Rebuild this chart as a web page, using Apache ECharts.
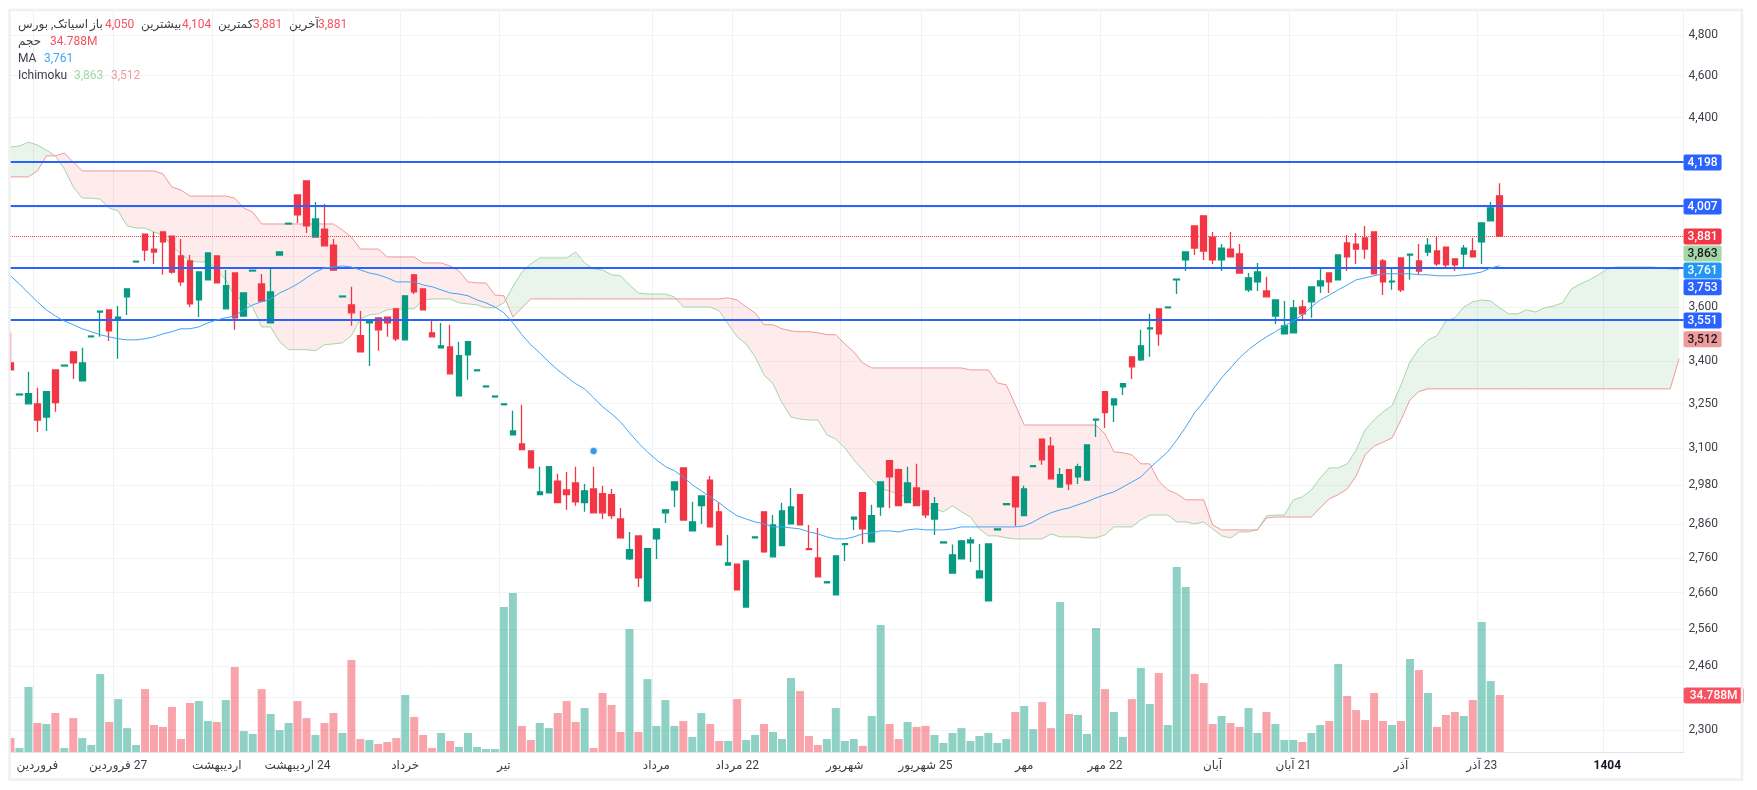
<!DOCTYPE html>
<html>
<head>
<meta charset="utf-8">
<style>
  html, body { margin: 0; padding: 0; background: #fff; }
  #main { width: 1757px; height: 790px; }
</style>
<script src="https://cdn.jsdelivr.net/npm/echarts@6/dist/echarts.min.js"></script>
</head>
<body>
<div id="main"></div>
<script>
// one candle per trading day, bars 167-186 are the empty future slots of the cloud
const opens = [3393,3280,3249,3249,3204,3368,3382,3433,3329,3488,3581,3589,3551,3639,3776,3889,3828,3898,3881,3800,3780,3627,3705,3800,3593,3732,3566,3740,3689,3540,3804,3931,4054,4114,3877,3910,3844,3639,3608,3492,3540,3559,3562,3593,3477,3725,3670,3503,3448,3451,3277,3422,3365,3308,3273,3246,3144,3114,3091,2951,2957,2994,2966,2988,2926,2969,2954,2951,2876,2757,2825,2637,2816,2895,2966,3036,2840,2917,2997,2898,2739,2742,2620,2819,2898,2763,2796,2861,2951,2787,2760,2688,2654,2799,2876,2957,2807,2913,3059,3030,2926,2972,2963,2876,2804,2716,2757,2804,2702,2637,2843,2920,3007,2886,3040,3130,3107,2975,3030,3007,2997,3194,3291,3246,3308,3415,3404,3518,3593,3597,3705,3784,3923,3965,3877,3784,3828,3808,3666,3697,3662,3566,3499,3503,3600,3620,3682,3732,3705,3853,3848,3873,3898,3780,3697,3792,3804,3780,3816,3820,3836,3788,3808,3820,3857,3944,4050];
const closes = [3368,3283,3284,3194,3291,3253,3385,3393,3393,3491,3584,3510,3562,3670,3779,3824,3816,3857,3736,3697,3612,3736,3812,3693,3682,3559,3654,3743,3623,3658,3816,3934,3969,3923,3952,3841,3744,3642,3578,3433,3551,3514,3540,3481,3643,3658,3589,3488,3455,3354,3419,3470,3368,3311,3276,3249,3157,3095,3036,2960,3040,2926,2951,2929,2963,2895,2895,2886,2819,2784,2702,2787,2846,2904,2991,2873,2867,2947,2852,2798,2745,2668,2751,2822,2778,2858,2901,2913,2858,2784,2705,2691,2766,2802,2882,2846,2886,2991,3007,2917,2988,2917,2889,2923,2807,2769,2810,2813,2722,2801,2846,2923,2913,2969,3043,3062,3001,3014,2985,3040,3111,3197,3219,3266,3319,3379,3455,3521,3499,3600,3708,3816,3832,3820,3784,3832,3796,3732,3713,3736,3639,3627,3529,3597,3574,3678,3701,3697,3804,3796,3828,3828,3729,3697,3700,3666,3807,3740,3844,3768,3764,3764,3832,3796,3935,3998,3881];
const lows = [3368,3280,3249,3154,3157,3222,3382,3336,3329,3488,3488,3473,3408,3570,3776,3780,3768,3725,3729,3682,3600,3562,3705,3693,3593,3514,3566,3740,3623,3540,3804,3931,3935,3894,3877,3841,3744,3639,3529,3433,3382,3437,3488,3473,3477,3650,3589,3488,3448,3354,3277,3333,3365,3308,3273,3246,3144,3095,3036,2951,2957,2926,2904,2917,2898,2895,2876,2876,2819,2754,2676,2637,2757,2864,2913,2873,2840,2861,2852,2798,2739,2668,2620,2819,2775,2763,2796,2861,2858,2784,2705,2688,2654,2751,2843,2801,2807,2886,2910,2917,2926,2917,2879,2828,2804,2716,2757,2748,2702,2637,2843,2920,2855,2886,3040,3046,3001,2975,2966,2985,2997,3137,3167,3187,3280,3336,3400,3415,3455,3597,3650,3740,3804,3784,3768,3740,3796,3732,3658,3662,3639,3536,3499,3503,3555,3559,3654,3654,3705,3740,3768,3788,3729,3646,3666,3658,3705,3725,3800,3760,3756,3740,3756,3796,3768,3944,3881];
const highs = [3503,3283,3361,3305,3291,3368,3385,3433,3448,3491,3584,3589,3604,3670,3779,3889,3898,3898,3881,3869,3804,3736,3812,3800,3744,3732,3654,3743,3728,3752,3816,3934,4054,4114,4024,4015,3869,3642,3678,3585,3551,3559,3562,3593,3643,3728,3670,3555,3540,3533,3470,3470,3368,3311,3276,3249,3225,3246,3091,3040,3040,3017,3023,3040,2985,3040,2979,2969,2910,2837,2825,2787,2846,2904,2991,3036,2929,2947,3010,2926,2828,2742,2751,2822,2898,2888,2926,2972,2951,2858,2849,2691,2766,2802,2882,2957,2920,2991,3059,3033,3040,3049,2963,2944,2807,2799,2813,2822,2801,2801,2846,2923,3007,2979,3043,3130,3137,3036,3030,3049,3111,3197,3291,3266,3319,3415,3514,3574,3593,3600,3708,3816,3923,3965,3898,3848,3898,3848,3732,3772,3717,3627,3623,3627,3627,3678,3752,3732,3804,3885,3894,3923,3898,3788,3748,3792,3807,3848,3873,3877,3836,3788,3844,3873,3935,4024,4104];
const volumes = [8.5,2.4,39.7,17.7,17.1,23.8,2.4,20.7,8.5,4.3,47.6,18.3,32.3,14.6,4.3,38.4,16.5,15.3,27.5,7.9,29.9,31.1,18.9,18.3,31.7,51.9,12.8,11,38.4,23.2,13.4,17.7,31.1,20.7,10.4,17.7,23.8,11.6,56.1,7.9,7.3,4.9,6.1,8.5,34.8,21.4,10.4,2.4,11.6,6.7,3.1,11.6,3.1,1.8,1.8,88.5,97,15.9,7.3,17.7,14.6,23.8,31.1,18.3,26.8,2.4,36,28.7,12.2,75.1,12.2,44.5,15.9,31.7,15.9,18.9,9.2,23.8,17.1,6.7,6.7,32.3,7.3,10.4,17.1,12.2,7.9,45.2,37.2,9.8,4.3,7.9,26.8,6.7,7.9,3.7,22,77.5,17.1,7.9,18.3,15.3,15.9,10.4,5.5,11.6,14.6,6.7,9.8,11.6,5.5,7.9,24.4,28.1,14,30.5,14.6,91.5,23.2,22.6,11,75.7,38.4,24.4,9.2,32.3,51.3,29.3,48.2,16.5,112.9,100.7,47.6,42.1,17.1,22,17.7,15.3,26.8,11.6,24.4,17.1,7.3,7.3,6.1,11.6,16.5,18.9,53.7,34.2,25.6,19.5,36,18.9,16.5,18.9,56.7,50,36,15.3,22.6,24.4,22,31.7,79.3,43.3,34.788];
const maValues = [3721,3689,3654,3620,3589,3566,3547,3533,3518,3507,3496,3488,3481,3477,3477,3481,3488,3499,3507,3518,3518,3525,3540,3551,3559,3566,3589,3608,3620,3631,3654,3670,3689,3713,3736,3752,3756,3760,3756,3744,3732,3725,3713,3697,3697,3697,3685,3678,3666,3654,3650,3643,3627,3616,3600,3578,3540,3496,3459,3429,3397,3368,3343,3319,3301,3270,3239,3215,3187,3151,3117,3088,3062,3040,3027,3007,2982,2963,2944,2926,2904,2886,2876,2867,2861,2852,2852,2849,2846,2837,2831,2822,2816,2816,2822,2831,2834,2840,2840,2837,2843,2846,2843,2843,2843,2846,2852,2852,2852,2852,2852,2852,2852,2855,2867,2882,2895,2904,2910,2920,2929,2941,2951,2960,2975,2991,3007,3036,3062,3088,3127,3170,3219,3256,3298,3340,3375,3411,3441,3466,3488,3507,3529,3547,3570,3600,3627,3646,3666,3685,3705,3713,3721,3729,3729,3729,3729,3725,3725,3721,3721,3721,3725,3729,3736,3752,3761];
const spanA = [4265,4269,4287,4274,4251,4225,4167,4088,4040,4040,4036,3998,3986,3923,3914,3914,3898,3885,3841,3808,3780,3776,3776,3744,3705,3639,3627,3600,3525,3525,3470,3441,3441,3441,3437,3459,3462,3466,3492,3555,3570,3574,3589,3593,3593,3593,3627,3631,3631,3631,3616,3612,3608,3597,3597,3616,3678,3736,3768,3792,3792,3792,3792,3816,3772,3748,3744,3725,3721,3685,3654,3650,3650,3650,3639,3600,3600,3600,3600,3585,3536,3488,3462,3415,3350,3319,3253,3204,3197,3194,3194,3144,3130,3101,3062,3030,2997,2969,2963,2951,2944,2929,2913,2907,2898,2917,2898,2882,2846,2825,2825,2819,2816,2816,2816,2816,2831,2822,2822,2822,2819,2819,2828,2852,2852,2852,2873,2888,2888,2888,2867,2867,2861,2867,2846,2825,2819,2837,2837,2843,2886,2888,2888,2935,2944,2966,3004,3036,3036,3049,3094,3161,3194,3222,3243,3315,3397,3444,3477,3492,3547,3559,3600,3620,3627,3623,3597,3574,3574,3589,3581,3597,3604,3616,3670,3689,3705,3725,3748,3756,3756,3756,3756,3756,3752,3748,3744];
const spanB = [4132,4132,4132,4158,4225,4225,4238,4198,4158,4158,4158,4158,4158,4158,4158,4158,4158,4145,4088,4075,4049,4049,4049,4049,4049,4040,3998,3981,3931,3931,3931,3931,3931,3931,3931,3931,3931,3906,3877,3828,3828,3828,3796,3796,3796,3796,3772,3772,3772,3760,3740,3697,3693,3693,3646,3643,3562,3597,3631,3631,3631,3631,3631,3631,3631,3631,3631,3631,3631,3631,3631,3631,3631,3631,3631,3631,3631,3631,3631,3631,3635,3627,3600,3578,3533,3533,3518,3510,3507,3507,3503,3496,3496,3462,3433,3393,3375,3375,3375,3375,3375,3375,3375,3375,3375,3375,3375,3368,3368,3368,3322,3315,3246,3177,3177,3177,3177,3177,3177,3177,3177,3177,3147,3088,3085,3078,3049,3049,2994,2966,2954,2935,2935,2935,2858,2843,2843,2843,2843,2843,2879,2882,2882,2882,2882,2882,2910,2938,2951,2969,3010,3078,3107,3120,3134,3194,3263,3292,3301,3301,3301,3301,3301,3301,3301,3301,3301,3301,3301,3301,3301,3301,3301,3301,3301,3301,3301,3301,3301,3301,3301,3301,3301,3301,3301,3301,3408];
const levelLines = [4198, 4007, 3753, 3551];
const lastPrice = 3881;
const signalBar = 65;
const signalPrice = 3091;

const priceTicks = [4800,4600,4400,4200,4000,3800,3600,3400,3250,3100,2980,2860,2760,2660,2560,2460,2380,2300];
const monthTicks = [3,12,23,32,44,55,72,81,93,102,113,122,134,143,155,164,178];
const monthLabels = ['فروردین','\u200f27 فروردین','اردیبهشت','\u200f24 اردیبهشت','خرداد','تیر','مرداد','\u200f22 مرداد','شهریور','\u200f25 شهریور','مهر','\u200f22 مهر','آبان','\u200f21 آبان','آذر','\u200f23 آذر','1404'];

// axis badges: text, price they sit at (pushed apart like the original), fill, text colour
const badgeTexts = ['4,198','4,007','3,881','3,863','3,761','3,753','3,551','3,512'];
const badgePrices = [4198,4007,3881,3812,3744,3678,3551,3481];
const badgeFills = ['#2962ff','#2962ff','#f23645','#a5d6a7','#2196f3','#2962ff','#2962ff','#ef9a9a'];
const badgeInks = ['#fff','#fff','#fff','#131722','#fff','#fff','#fff','#131722'];

const categories = spanA.map((_, i) => String(i));
const up = '#089981';
const down = '#f23645';
const fontFamily = 'Roboto, "Noto Sans", "DejaVu Sans", sans-serif';

const candleData = opens.map((o, i) => [o, closes[i], lows[i], highs[i]]);

function cloudItem(params, api) {
  const children = [];
  let top = [], bottom = [], sign = null, pa, pb;
  const flush = () => {
    children.push({
      type: 'polygon',
      shape: { points: top.concat(bottom.slice().reverse()) },
      style: { fill: sign > 0 ? 'rgba(76,175,80,0.12)' : 'rgba(242,54,69,0.1)' }
    });
    top = [];
    bottom = [];
  };
  spanA.forEach((a, i) => {
    const ca = api.coord([i, a]);
    const cb = api.coord([i, spanB[i]]);
    const s = a >= spanB[i] ? 1 : -1;
    if (sign !== null && s !== sign) {
      const d0 = pa[1] - pb[1];
      const d1 = ca[1] - cb[1];
      const t = d0 / (d0 - d1);
      const cross = [pa[0] + t * (ca[0] - pa[0]), pa[1] + t * (ca[1] - pa[1])];
      top.push(cross);
      bottom.push(cross);
      flush();
      top.push(cross);
      bottom.push(cross);
    }
    sign = s;
    top.push(ca);
    bottom.push(cb);
    pa = ca;
    pb = cb;
  });
  flush();
  return { type: 'group', children };
}

function badge(api, params, text, fill, ink, width, value) {
  const y = api.coord([0, value])[1] + 0.5;
  const x = params.coordSys.x + params.coordSys.width;
  return {
    type: 'group',
    children: [
      { type: 'rect', shape: { x: x, y: y - 8, width: width, height: 16, r: 2 }, style: { fill: fill } },
      { type: 'text', x: x + width / 2, y: y + 0.5, style: { text: text, fill: ink, font: '500 12px ' + fontFamily, align: 'center', verticalAlign: 'middle' } }
    ]
  };
}

// header rows of the original: text, left, middle y, colour
const grey = '#3c3f48';
const red = '#f7525f';
const headerRows = [
  ['اسیاتک, بورس', 18, 25, grey], ['باز', 90, 25, grey], ['4,050', 105, 25, red],
  ['بیشترین', 141, 25, grey], ['4,104', 182, 25, red], ['کمترین', 218, 25, grey], ['3,881', 253, 25, red],
  ['آخرین', 289, 25, grey], ['3,881', 318, 25, red],
  ['حجم', 18, 42, grey], ['34.788M', 50, 42, red],
  ['MA', 18, 59, grey], ['3,761', 44, 59, '#42a5f5'],
  ['Ichimoku', 18, 76, grey], ['3,863', 74, 76, '#a5d6a7'], ['3,512', 111, 76, '#ef9a9a']
];

const chart = echarts.init(document.getElementById('main'));
chart.setOption({
  animation: false,
  backgroundColor: '#fff',
  grid: [
    { left: 6, right: 73.4, top: 10, bottom: 38 },
    { left: 6, right: 73.4, top: 512, bottom: 38 }
  ],
  xAxis: [
    {
      type: 'category',
      data: categories,
      gridIndex: 0,
      axisLine: { lineStyle: { color: '#e0e3eb', width: 1 } },
      axisTick: { show: false, alignWithLabel: true, customValues: monthTicks },
      splitLine: { show: true, lineStyle: { color: '#f0f1f5', width: 1 } },
      axisLabel: {
        customValues: monthTicks,
        margin: 8,
        hideOverlap: false,
        fontFamily: fontFamily,
        fontSize: 12,
        color: '#3c3f48',
        formatter: function (value) {
          const label = monthLabels[monthTicks.indexOf(Number(value))];
          return label === '1404' ? '{b|1404}' : label;
        },
        rich: { b: { fontWeight: 'bold', fontFamily: fontFamily, fontSize: 12, color: '#131722' } }
      }
    },
    { type: 'category', data: categories, gridIndex: 1, show: false }
  ],
  yAxis: [
    {
      type: 'log',
      logBase: 10,
      gridIndex: 0,
      position: 'right',
      min: 2247,
      max: 4931,
      axisLine: { show: false },
      axisTick: { show: false, customValues: priceTicks },
      splitLine: { show: true, lineStyle: { color: '#f2f3f6', width: 1 } },
      minorSplitLine: { show: false },
      axisLabel: {
        customValues: priceTicks,
        margin: 5,
        padding: [2, 0, 0, 0],
        fontFamily: fontFamily,
        fontSize: 12,
        color: '#3c3f48',
        formatter: function (v) { return Math.round(v).toLocaleString('en-US'); }
      }
    },
    { type: 'value', gridIndex: 1, min: 0, max: 146.5, show: false, splitLine: { show: false } }
  ],
  series: [
    { type: 'custom', name: 'cloud', renderItem: cloudItem, data: [[0, spanA[0]]], clip: true, silent: true, z: 1 },
    {
      type: 'bar',
      name: 'حجم',
      xAxisIndex: 1,
      yAxisIndex: 1,
      barWidth: 8,
      z: 2,
      data: volumes,
      itemStyle: {
        color: function (p) {
          return closes[p.dataIndex] >= opens[p.dataIndex] ? 'rgba(8,153,129,0.45)' : 'rgba(242,54,69,0.45)';
        }
      }
    },
    { type: 'line', name: 'spanA', data: spanA, showSymbol: false, z: 3, lineStyle: { color: '#a5d6a7', width: 1 } },
    { type: 'line', name: 'spanB', data: spanB, showSymbol: false, z: 3, lineStyle: { color: '#ef9a9a', width: 1 } },
    {
      type: 'candlestick',
      name: 'price',
      barWidth: 6,
      z: 4,
      data: candleData,
      itemStyle: { color: up, color0: down, borderColor: up, borderColor0: down, borderColorDoji: up, borderWidth: 1.3 }
    },
    {
      type: 'line',
      name: 'MA',
      data: maValues,
      showSymbol: false,
      z: 5,
      lineStyle: { color: '#42a5f5', width: 1 },
      markLine: {
        silent: true,
        symbol: 'none',
        label: { show: false },
        animation: false,
        data: levelLines.map(v => ({ yAxis: v, lineStyle: { color: '#2962ff', width: 2, type: 'solid' } }))
          .concat([{ yAxis: lastPrice, lineStyle: { color: '#f23645', width: 1, type: 'dotted' } }])
      }
    },
    {
      type: 'scatter',
      name: 'signal',
      data: [[signalBar, signalPrice]],
      symbolSize: 6,
      z: 6,
      itemStyle: { color: '#0a7ddb', borderColor: 'rgba(33,150,243,0.35)', borderWidth: 2 }
    },
    {
      type: 'custom',
      name: 'badges',
      data: badgePrices.map((p, i) => [i, p]),
      clip: false,
      silent: true,
      z: 20,
      renderItem: function (params, api) {
        const i = params.dataIndex;
        return badge(api, params, badgeTexts[i], badgeFills[i], badgeInks[i], 38, badgePrices[i]);
      }
    },
    {
      type: 'custom',
      name: 'volumeBadge',
      xAxisIndex: 1,
      yAxisIndex: 1,
      data: [[0, volumes[volumes.length - 1]]],
      clip: false,
      silent: true,
      z: 20,
      renderItem: function (params, api) {
        return badge(api, params, '34.788M', '#f7525f', '#fff', 60, volumes[volumes.length - 1]);
      }
    }
  ],
  graphic: {
    elements: [
      { type: 'rect', z: 100, shape: { x: 0, y: 0, width: 9, height: 790 }, style: { fill: '#fff' } },
      { type: 'rect', z: 101, shape: { x: 9.5, y: 10, width: 1732.5, height: 769.5 }, style: { fill: 'none', stroke: '#eff0f4', lineWidth: 2.5 } }
    ].concat(headerRows.map(r => ({
      type: 'text',
      z: 102,
      x: r[1],
      y: r[2],
      style: { text: r[0], fill: r[3], font: '12px ' + fontFamily, verticalAlign: 'middle' }
    })))
  }
});
</script>
</body>
</html>
